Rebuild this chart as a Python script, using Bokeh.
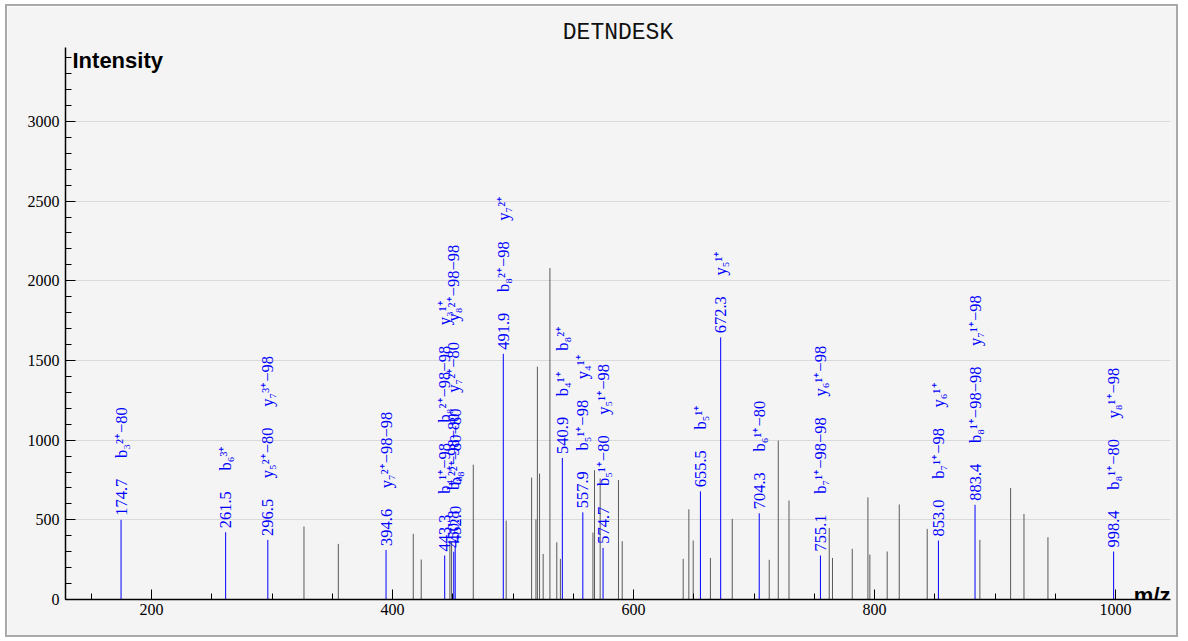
from math import pi
from bokeh.plotting import figure
from bokeh.models import Range1d, SingleIntervalTicker, Label, ColumnDataSource
from bokeh.core.properties import value
from bokeh.embed import file_html
from bokeh.resources import INLINE

peptide = "DETNDESK"

# unannotated peaks (m/z, intensity)
other_mz = [326.5, 355.0, 417.2, 423.8, 447.6, 449.0, 467.0, 494.3, 515.4, 519.0,
            520.2, 522.0, 525.0, 530.6, 536.3, 539.3, 566.3, 567.6, 572.3, 587.5,
            590.6, 641.2, 645.9, 649.5, 663.8, 681.9, 712.6, 720.1, 729.0, 762.4,
            765.1, 781.5, 794.5, 796.1, 810.5, 820.5, 843.7, 887.4, 912.9, 924.0,
            943.9]
other_int = [458, 349, 412, 251, 370, 360, 846, 495, 765, 503,
             1461, 790, 286, 2080, 359, 255, 420, 811, 760, 750,
             366, 255, 566, 370, 261, 506, 249, 997, 621, 449,
             261, 318, 641, 282, 301, 596, 443, 374, 700, 537,
             391]

# annotated peaks
ann_mz = [174.7, 261.5, 296.5, 394.6, 443.3, 450.8, 452.0, 491.9, 540.9, 557.9,
          574.7, 655.5, 672.3, 704.3, 755.1, 853.0, 883.4, 998.4]
ann_int = [500, 422, 374, 311, 276, 300, 330, 1542, 888, 547,
           324, 679, 1645, 541, 276, 370, 594, 301]
ann_ions = [
    ["b\u2083\u00b2\u207a\u221280"],
    ["b\u2086\u00b3\u207a"],
    ["y\u2085\u00b2\u207a\u221280", "y\u2087\u00b3\u207a\u221298"],
    ["y\u2087\u00b2\u207a\u221298\u221298"],
    ["b\u2084\u00b9\u207a\u221298", "b\u2088\u00b2\u207a\u221298\u221298", "y\u2083\u00b9\u207a"],
    ["b\u2088\u00b2\u207a\u221298\u221280", "y\u2087\u00b2\u207a\u221280", "y\u2088\u00b2\u207a\u221298\u221298"],
    ["b\u2088\u00b2\u207a\u221280\u221280"],
    ["b\u2088\u00b2\u207a\u221298", "y\u2087\u00b2\u207a"],
    ["b\u2084\u00b9\u207a", "b\u2088\u00b2\u207a"],
    ["b\u2085\u00b9\u207a\u221298", "y\u2084\u00b9\u207a"],
    ["b\u2085\u00b9\u207a\u221280", "y\u2085\u00b9\u207a\u221298"],
    ["b\u2085\u00b9\u207a"],
    ["y\u2085\u00b9\u207a"],
    ["b\u2086\u00b9\u207a\u221280"],
    ["b\u2087\u00b9\u207a\u221298\u221298", "y\u2086\u00b9\u207a\u221298"],
    ["b\u2087\u00b9\u207a\u221298", "y\u2086\u00b9\u207a"],
    ["b\u2088\u00b9\u207a\u221298\u221298", "y\u2087\u00b9\u207a\u221298"],
    ["b\u2088\u00b9\u207a\u221280", "y\u2088\u00b9\u207a\u221298"],
]

GAP = "\u00a0" * 5
ann_text = [GAP.join([f"{m:.1f}"] + ions) for m, ions in zip(ann_mz, ann_ions)]

other_src = ColumnDataSource(dict(x=other_mz, y=other_int, y0=[0] * len(other_mz)))
ann_src = ColumnDataSource(dict(x=ann_mz, y=ann_int, y0=[0] * len(ann_mz), t=ann_text))

BG = "#f4f4f4"
p = figure(width=1173, height=633, output_backend="svg", toolbar_location=None,
           x_range=Range1d(128.6, 1045.6), y_range=Range1d(0, 3464),
           min_border_left=58, min_border_right=10, min_border_top=41, min_border_bottom=40,
           background_fill_color=BG, border_fill_color=BG, outline_line_color=None,
           title=peptide)
p.styles = {"border": "2px solid #a9a9a9", "margin-left": "5px", "margin-top": "4px"}
p.title.align = "center"
p.title.text_font = "Liberation Mono"
p.title.text_font_size = "23px"
p.title.text_font_style = "normal"
p.title.text_color = "#111111"
p.title.standoff = 4

p.segment(x0="x", y0="y0", x1="x", y1="y", source=other_src, line_color="#5a5a5a", line_width=1)
p.segment(x0="x", y0="y0", x1="x", y1="y", source=ann_src, line_color="#0000ff", line_width=1)
p.text(x="x", y="y", text="t", source=ann_src, angle=pi / 2, y_offset=-4,
       text_align="left", text_baseline="middle", text_color="#0000ff",
       text_font=value("Liberation Serif"), text_font_size="16.5px")

p.xaxis.ticker = SingleIntervalTicker(interval=200, num_minor_ticks=4)
p.yaxis.ticker = SingleIntervalTicker(interval=500, num_minor_ticks=5)
for ax in (p.xaxis, p.yaxis):
    ax.major_tick_in = 10
    ax.major_tick_out = 0
    ax.minor_tick_in = 6
    ax.minor_tick_out = 0
    ax.axis_line_color = "black"
    ax.axis_line_width = 1.5
    ax.major_tick_line_color = "black"
    ax.minor_tick_line_color = "black"
    ax.major_label_text_font = "Liberation Serif"
    ax.major_label_text_font_size = "16px"
    ax.major_label_text_color = "black"
p.xaxis.major_label_standoff = 4
p.yaxis.major_label_standoff = 6
p.xgrid.visible = False
p.ygrid.grid_line_color = "#d9d9d9"
p.ygrid.grid_line_width = 1

p.add_layout(Label(x=7, y=539, x_units="screen", y_units="screen", text="Intensity",
                   text_font="Liberation Sans", text_font_style="bold", text_font_size="22px",
                   text_baseline="middle", text_color="black"))
p.add_layout(Label(x=1105, y=4, x_units="screen", y_units="screen", text="m/z",
                   text_font="Liberation Sans", text_font_style="bold", text_font_size="22px",
                   text_align="right", text_baseline="alphabetic", text_color="black"))

open("out.html", "w").write(file_html(p, INLINE))
